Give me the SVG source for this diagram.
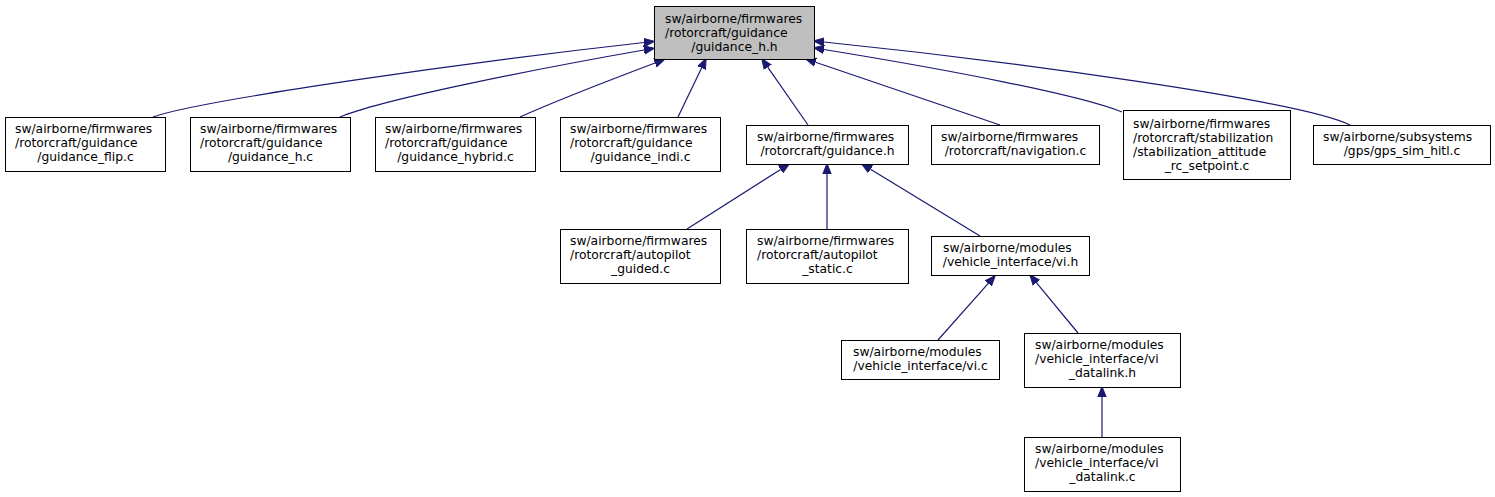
<svg xmlns="http://www.w3.org/2000/svg" width="1495" height="497" viewBox="0 0 1495 497">
<style>
.bg{fill:#ffffff}
.node rect{fill:#ffffff;stroke:#000000;stroke-width:1}
#root rect{fill:#bfbfbf}
.node text{font-family:"DejaVu Sans",sans-serif;font-size:12.3px;fill:#000000}
.c{text-anchor:middle}
.edge{fill:none;stroke:#191970;stroke-width:1.2}
</style>
<defs>
<marker id="ah" markerUnits="userSpaceOnUse" markerWidth="12" markerHeight="10" viewBox="0 -5 12 10" refX="0" refY="0" orient="auto">
<path d="M0,-4.2 L10.5,0 L0,4.2 z" fill="#191970" stroke="#191970" stroke-width="1"/>
</marker>
</defs>
<rect class="bg" x="0" y="0" width="1495" height="497"/>
<g id="connectors">
<path class="edge" marker-end="url(#ah)" d="M153,117 C200,100 470,62 644,42.5"/>
<path class="edge" marker-end="url(#ah)" d="M340,117 C380,100 530,70 644,50"/>
<path class="edge" marker-end="url(#ah)" d="M520,117 C560,99 610,80 655,63"/>
<path class="edge" marker-end="url(#ah)" d="M678,117 L701.6,68"/>
<path class="edge" marker-end="url(#ah)" d="M808,125 L767.7,67.2"/>
<path class="edge" marker-end="url(#ah)" d="M1000,125 L815.5,62.2"/>
<path class="edge" marker-end="url(#ah)" d="M1122,112 C1080,95 950,70 824,49.5"/>
<path class="edge" marker-end="url(#ah)" d="M1350,125 C1300,100 1000,60 824,42"/>
<path class="edge" marker-end="url(#ah)" d="M687,229 L780.6,169.4"/>
<path class="edge" marker-end="url(#ah)" d="M827,229 L827,174"/>
<path class="edge" marker-end="url(#ah)" d="M980,236 L870.5,169.2"/>
<path class="edge" marker-end="url(#ah)" d="M938,340 L988.3,283.4"/>
<path class="edge" marker-end="url(#ah)" d="M1078,333 L1036.4,282.7"/>
<path class="edge" marker-end="url(#ah)" d="M1102,437 L1102,397"/>
</g>
<g id="root" class="node">
<rect x="654.5" y="6.5" width="160" height="53"/>
<text x="665" y="23">sw/airborne/firmwares</text>
<text x="665" y="37">/rotorcraft/guidance </text>
<text class="c" x="734.5" y="51">/guidance_h.h</text>
</g>
<g id="guidance_flip" class="node">
<rect x="5.5" y="117.5" width="160" height="54"/>
<text x="15" y="133">sw/airborne/firmwares</text>
<text x="15" y="147">/rotorcraft/guidance</text>
<text class="c" x="85.5" y="161">/guidance_flip.c</text>
</g>
<g id="guidance_h_c" class="node">
<rect x="190.5" y="117.5" width="160" height="54"/>
<text x="200" y="133">sw/airborne/firmwares</text>
<text x="200" y="147">/rotorcraft/guidance</text>
<text class="c" x="270.5" y="161">/guidance_h.c</text>
</g>
<g id="guidance_hybrid" class="node">
<rect x="375.5" y="117.5" width="160" height="54"/>
<text x="385" y="133">sw/airborne/firmwares</text>
<text x="385" y="147">/rotorcraft/guidance</text>
<text class="c" x="455.5" y="161">/guidance_hybrid.c</text>
</g>
<g id="guidance_indi" class="node">
<rect x="560.5" y="117.5" width="160" height="54"/>
<text x="570" y="133">sw/airborne/firmwares</text>
<text x="570" y="147">/rotorcraft/guidance</text>
<text class="c" x="640.5" y="161">/guidance_indi.c</text>
</g>
<g id="guidance_h" class="node">
<rect x="746.5" y="125.5" width="162" height="39"/>
<text x="757" y="141">sw/airborne/firmwares</text>
<text class="c" x="827.5" y="155">/rotorcraft/guidance.h</text>
</g>
<g id="navigation" class="node">
<rect x="931.5" y="125.5" width="168" height="39"/>
<text x="941" y="141">sw/airborne/firmwares</text>
<text class="c" x="1015.5" y="155">/rotorcraft/navigation.c</text>
</g>
<g id="stabilization" class="node">
<rect x="1123.5" y="110.5" width="167" height="69"/>
<text x="1133" y="128">sw/airborne/firmwares</text>
<text x="1133" y="142">/rotorcraft/stabilization</text>
<text x="1133" y="156">/stabilization_attitude</text>
<text class="c" x="1207" y="170">_rc_setpoint.c</text>
</g>
<g id="gps_sim_hitl" class="node">
<rect x="1313.5" y="125.5" width="177" height="39"/>
<text x="1323" y="141">sw/airborne/subsystems</text>
<text class="c" x="1402" y="155">/gps/gps_sim_hitl.c</text>
</g>
<g id="autopilot_guided" class="node">
<rect x="560.5" y="229.5" width="160" height="54"/>
<text x="570" y="245">sw/airborne/firmwares</text>
<text x="570" y="259">/rotorcraft/autopilot</text>
<text class="c" x="640.5" y="273">_guided.c</text>
</g>
<g id="autopilot_static" class="node">
<rect x="746.5" y="229.5" width="162" height="54"/>
<text x="757" y="245">sw/airborne/firmwares</text>
<text x="757" y="259">/rotorcraft/autopilot</text>
<text class="c" x="827.5" y="273">_static.c</text>
</g>
<g id="vi_h" class="node">
<rect x="931.5" y="236.5" width="158" height="39"/>
<text x="943" y="252">sw/airborne/modules</text>
<text class="c" x="1010.5" y="266">/vehicle_interface/vi.h</text>
</g>
<g id="vi_c" class="node">
<rect x="841.5" y="340.5" width="158" height="39"/>
<text x="853" y="356">sw/airborne/modules</text>
<text class="c" x="920.5" y="370">/vehicle_interface/vi.c</text>
</g>
<g id="vi_datalink_h" class="node">
<rect x="1024.5" y="333.5" width="156" height="54"/>
<text x="1035" y="349">sw/airborne/modules</text>
<text x="1035" y="363">/vehicle_interface/vi</text>
<text class="c" x="1102.5" y="377">_datalink.h</text>
</g>
<g id="vi_datalink_c" class="node">
<rect x="1024.5" y="437.5" width="156" height="54"/>
<text x="1035" y="453">sw/airborne/modules</text>
<text x="1035" y="467">/vehicle_interface/vi</text>
<text class="c" x="1102.5" y="481">_datalink.c</text>
</g>
</svg>
